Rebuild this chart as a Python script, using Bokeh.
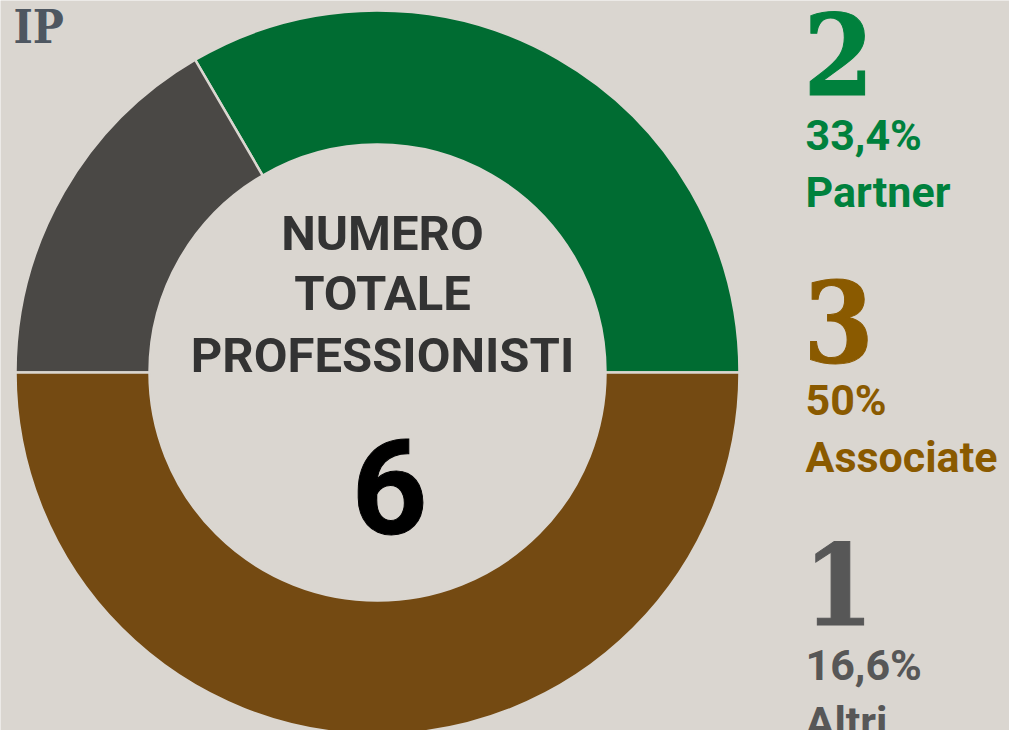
import math
from bokeh.plotting import figure
from bokeh.models import Range1d, ColumnDataSource
from bokeh.core.properties import value
from bokeh.embed import file_html
from bokeh.resources import INLINE

# --- data ---
categories = ["Partner", "Associate", "Altri"]
counts = [2, 3, 1]
shares = [33.4, 50.0, 16.6]
share_labels = ["33,4%", "50%", "16,6%"]
wedge_colors = ["#006C32", "#744A12", "#4A4845"]
label_colors = ["#00813D", "#8A5A00", "#575757"]
# counter-clockwise order of the ring, starting at 3 o'clock
ring_order = ["Partner", "Altri", "Associate"]
total = sum(counts)

W, H = 1009, 730
BG = "#DAD6D0"

p = figure(width=W, height=H, output_backend="svg", toolbar_location=None,
           x_range=Range1d(0, W), y_range=Range1d(0, H),
           min_border=0, background_fill_color=BG, border_fill_color=BG)
p.axis.visible = False
p.grid.visible = False
p.outline_line_color = None


def Y(py):
    return H - py


def put(x, base_px, txt, font, size, color, align="left", heavy=False):
    # place text so that its glyph baseline sits at base_px (pixels from top)
    r = p.text(x=[x], y=[Y(base_px - 0.355 * size)], text=[txt], text_font=font,
               text_font_size=f"{size}px", text_font_style="bold", text_color=color,
               text_align=align, text_baseline="alphabetic")
    if heavy:
        # a same-coloured outline thickens the strokes
        r.glyph.text_outline_color = color
    return r


# --- donut ring ---
cx, cy = 377, Y(372)
starts, ends, cols = [], [], []
acc = 0.0
for name in ring_order:
    i = categories.index(name)
    a0 = acc
    acc += shares[i] / 100.0 * 2 * math.pi
    starts.append(a0)
    ends.append(acc)
    cols.append(wedge_colors[i])

ring = ColumnDataSource(dict(x=[cx] * 3, y=[cy] * 3, start=starts, end=ends, color=cols))
p.annular_wedge(x="x", y="y", inner_radius=228, outer_radius=362,
                start_angle="start", end_angle="end", fill_color="color",
                line_color=BG, line_width=2.5, source=ring)

# --- centre caption ---
center_font = value("Roboto")
for txt, base in [("NUMERO", 250), ("TOTALE", 310), ("PROFESSIONISTI", 372)]:
    put(382, base, txt, center_font, 49, "#333333", "center")
put(389, 533, str(total), center_font, 132, "#000000", "center", heavy=True)

# --- corner tag ---
slab = value("'DejaVu Serif Condensed', 'DejaVu Serif'")
put(13, 43, "IP", slab, 46, "#4E5761")

# --- side legend ---
lab_font = value("Roboto")
blocks = {"Partner": (93, 150, 207), "Associate": (360, 415, 472), "Altri": (623, 680, 737)}
for i, name in enumerate(categories):
    b_num, b_pct, b_name = blocks[name]
    put(803, b_num, str(counts[i]), slab, 112, label_colors[i], heavy=True)
    put(805, b_pct, share_labels[i], lab_font, 43, label_colors[i])
    put(805, b_name, name, lab_font, 43, label_colors[i])

open("out.html", "w").write(file_html(p, INLINE))
